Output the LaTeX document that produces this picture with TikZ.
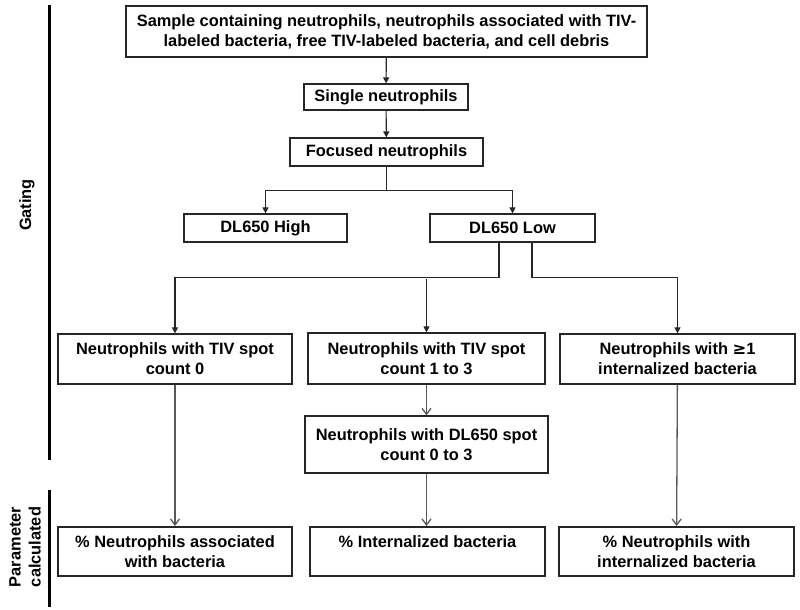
\documentclass[tikz,border=0pt]{standalone}
\usepackage{fontspec}
\setmainfont{Liberation Sans}
\usepackage{tikz}
\usetikzlibrary{positioning,arrows.meta}

\tikzset{
  box/.style={draw=black!85,line width=1.2pt,fill=white,align=center,inner sep=2pt,
    font=\bfseries\fontsize{16.4}{20}\selectfont},
  resultbox/.style={box,line width=2pt},
  arr/.style={draw=black!85,line width=1.1pt,-{Triangle[length=6pt,width=6pt]}},
  barb/.style={draw=black!65,line width=1.3pt,-{Straight Barb[length=6pt,width=9pt]}},
  side/.style={line width=3pt},
  sidetext/.style={rotate=90,align=center,font=\bfseries\fontsize{16.4}{20}\selectfont}
}

\begin{document}
\begin{tikzpicture}[x=1pt,y=-1pt]
  \useasboundingbox (0,0) rectangle (800,610);

  % gating steps
  \node (sample) [box,minimum width=521pt,minimum height=51pt] at (386.5,31.5)
    {Sample containing neutrophils, neutrophils associated with TIV-\\labeled bacteria, free TIV-labeled bacteria, and cell debris};
  \node (single) [box,minimum width=164pt,minimum height=26pt] at (386,97) {Single neutrophils};
  \node (focused) [box,minimum width=193pt,minimum height=28pt] at (386.5,152) {Focused neutrophils};
  \node (high) [box,minimum width=163pt,minimum height=28pt] at (265.5,228) {DL650 High};
  \node (low) [box,minimum width=165pt,minimum height=28pt] at (512.5,228) {DL650 Low};
  \node (tivzero) [box,minimum width=234pt,minimum height=50pt] at (175,359) {Neutrophils with TIV spot\\count 0};
  \node (tivlow) [box,minimum width=237pt,minimum height=51pt] at (426.5,358.5) {Neutrophils with TIV spot\\count 1 to 3};
  \node (inside) [box,minimum width=235pt,minimum height=50pt] at (677.5,359) {Neutrophils with \fontspec{DejaVu Sans}\bfseries ≥\normalfont\bfseries 1\\internalized bacteria};
  \node (dlspot) [box,minimum width=243pt,minimum height=57pt] at (426.5,444.5) {Neutrophils with DL650 spot\\count 0 to 3};

  % parameters
  \node (assoc) [resultbox,minimum width=234pt,minimum height=49pt] at (175,551.5) {\% Neutrophils associated\\with bacteria};
  \node (internal) [resultbox,minimum width=235pt,minimum height=49pt] at (427.5,551.5) {\% Internalized bacteria\\\mbox{}};
  \node (withbact) [resultbox,minimum width=235pt,minimum height=49pt] at (676.5,551.5) {\% Neutrophils with\\internalized bacteria};

  \coordinate (midstart) at (426.5,279);

  \draw[arr] (sample) -- (single);
  \draw[arr] (single) -- (focused);
  \draw[arr] (focused.south) -- ++(0,24) -| (high.north);
  \draw[arr] (focused.south) -- ++(0,24) -| (low.north);
  \draw[arr] ([xshift=-13.5pt]low.south) -- ++(0,35) -| (tivzero.north);
  \draw[arr] ([xshift=19.5pt]low.south) -- ++(0,35) -| (inside.north);
  \draw[arr] (midstart) -- (tivlow.north);

  \draw[barb] (tivlow) -- (dlspot);
  \draw[barb] (tivzero) -- (assoc);
  \draw[barb] (dlspot.south) -- (internal.north -| dlspot.south);
  \draw[barb] (inside) -- (withbact);

  % side labels
  \coordinate (gtop) at (49,5);
  \coordinate (gbot) at (49,460);
  \coordinate (ptop) at (49,490);
  \coordinate (pbot) at (49,607);
  \draw[side] (gtop) -- (gbot);
  \draw[side] (ptop) -- (pbot);
  \node (gating) [sidetext] at (27,205) {Gating};
  \node (param) [sidetext] at (25,547) {Parameter\\calculated};
\end{tikzpicture}
\end{document}
